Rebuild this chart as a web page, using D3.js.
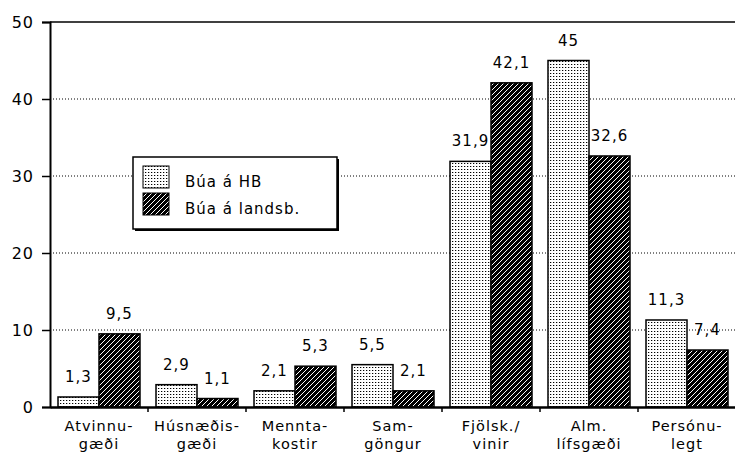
<!DOCTYPE html>
<html><head><meta charset="utf-8">
<script src="https://cdn.jsdelivr.net/npm/d3@7"></script>
<style>
html,body{margin:0;padding:0;background:#fff;}
svg{display:block;}
text{font-family:"DejaVu Sans",sans-serif;fill:#000;}
</style></head>
<body>
<svg id="chart" width="735" height="459"></svg>
<script>
const categories = ["Atvinnugæði","Húsnæðisgæði","Menntakostir","Samgöngur","Fjölsk./vinir","Alm. lífsgæði","Persónulegt"];
const categoryLines = [["Atvinnu-","gæði"],["Húsnæðis-","gæði"],["Mennta-","kostir"],["Sam-","göngur"],["Fjölsk./","vinir"],["Alm.","lífsgæði"],["Persónu-","legt"]];
const seriesNames = ["Búa á HB","Búa á landsb."];
const valuesHB = [1.3, 2.9, 2.1, 5.5, 31.9, 45, 11.3];
const valuesLandsb = [9.5, 1.1, 5.3, 2.1, 42.1, 32.6, 7.4];
const yTicks = [0, 10, 20, 30, 40, 50];

(function(){
const svg = d3.select("#chart");
const mLeft = 50, mTop = 22, mBottom = 407, mRight = 736;

const defs = svg.append("defs");
const dots = defs.append("pattern").attr("id","dots").attr("patternUnits","userSpaceOnUse")
  .attr("width",3).attr("height",3);
dots.append("rect").attr("width",3).attr("height",3).attr("fill","#fff");
dots.append("rect").attr("x",1).attr("y",1).attr("width",1).attr("height",1).attr("fill","#000");
dots.append("rect").attr("x",2).attr("y",1).attr("width",1).attr("height",1).attr("fill","#bbb");

const hatch = defs.append("pattern").attr("id","hatch").attr("patternUnits","userSpaceOnUse")
  .attr("width",5).attr("height",5);
hatch.append("rect").attr("width",5).attr("height",5).attr("fill","#000");
hatch.append("path").attr("d","M-1,1 L1,-1 M0,5 L5,0 M4,6 L6,4")
  .attr("stroke","#fff").attr("stroke-width",1);

const fills = ["url(#dots)","url(#hatch)"];

const x = d3.scaleBand().domain(categories).range([mLeft, mRight]).paddingInner(0).paddingOuter(0);
const xs = d3.scaleBand().domain([0,1]).range([8, x.bandwidth()-8]).padding(0);
const y = d3.scaleLinear().domain([0,50]).range([mBottom, mTop]);

// gridlines
svg.append("g").selectAll("line").data(yTicks.filter(t => t>0 && t<50)).join("line")
  .attr("x1", mLeft).attr("x2", 735).attr("y1", d=>y(d)).attr("y2", d=>y(d))
  .attr("stroke","#000").attr("stroke-width",1).attr("stroke-dasharray","1,2");

// top frame
svg.append("line").attr("x1",mLeft).attr("x2",735).attr("y1",y(50)).attr("y2",y(50))
  .attr("stroke","#000").attr("stroke-width",1.5);

// y axis
const yAxis = d3.axisLeft(y).tickValues(yTicks).tickSize(8).tickPadding(8).tickFormat(d3.format("d"));
const ga = svg.append("g").attr("transform",`translate(${mLeft},0)`).call(yAxis);
ga.select(".domain").attr("stroke","#000").attr("stroke-width",2);
ga.selectAll(".tick line").attr("stroke","#000").attr("stroke-width",1.5);
ga.selectAll(".tick text").attr("font-size",16).attr("font-family","DejaVu Sans").attr("fill","#000")
  .attr("letter-spacing","1px");

// bars
const data = categories.map((c,i)=>({c, v:[valuesHB[i], valuesLandsb[i]]}));
const groups = svg.append("g").selectAll("g").data(data).join("g")
  .attr("transform", d=>`translate(${x(d.c)},0)`);
groups.selectAll("rect").data(d=>d.v.map((v,s)=>({v,s}))).join("rect")
  .attr("x", d=>xs(d.s)).attr("width", xs.bandwidth())
  .attr("y", d=>y(d.v)).attr("height", d=>y(0)-y(d.v))
  .attr("fill", d=>fills[d.s]).attr("stroke","#000").attr("stroke-width",1.5);
groups.selectAll("text").data(d=>d.v.map((v,s)=>({v,s}))).join("text")
  .attr("x", d=>xs(d.s)+xs.bandwidth()/2).attr("y", d=>y(d.v)-15)
  .attr("text-anchor","middle").attr("font-size",15).attr("letter-spacing","1px")
  .text(d=>String(d.v).replace(".", ","));

// x axis baseline + ticks
const xAxis = d3.axisBottom(x).tickSize(0).tickFormat("");
const gx = svg.append("g").attr("transform",`translate(0,${mBottom})`).call(xAxis);
gx.select(".domain").attr("stroke","#000").attr("stroke-width",2.5);
gx.selectAll(".tick").remove();
svg.append("g").selectAll("line").data(categories.slice(1)).join("line")
  .attr("x1", d=>x(d)).attr("x2", d=>x(d)).attr("y1", mBottom).attr("y2", mBottom+5)
  .attr("stroke","#000").attr("stroke-width",1.5);

// category labels
const cl = svg.append("g").selectAll("text").data(categories).join("text")
  .attr("text-anchor","middle").attr("font-size",14.5).attr("letter-spacing","1px");
cl.each(function(d,i){
  const t = d3.select(this);
  categoryLines[i].forEach((ln,j)=>{
    t.append("tspan").attr("x", x(d)+x.bandwidth()/2).attr("y", 431 + j*18).text(ln);
  });
});

// legend
const lg = svg.append("g");
lg.append("rect").attr("x",135).attr("y",159).attr("width",204).attr("height",72).attr("fill","#000");
lg.append("rect").attr("x",133).attr("y",157).attr("width",204).attr("height",72)
  .attr("fill","#fff").attr("stroke","#000").attr("stroke-width",1.5);
seriesNames.forEach((n,i)=>{
  lg.append("rect").attr("x",143).attr("y",166+i*27).attr("width",26).attr("height",22)
    .attr("fill",fills[i]).attr("stroke","#000").attr("stroke-width",1);
  lg.append("text").attr("x",185).attr("y",187+i*27).attr("font-size",15).attr("letter-spacing","1px").text(n);
});
})();
</script>
</body></html>
